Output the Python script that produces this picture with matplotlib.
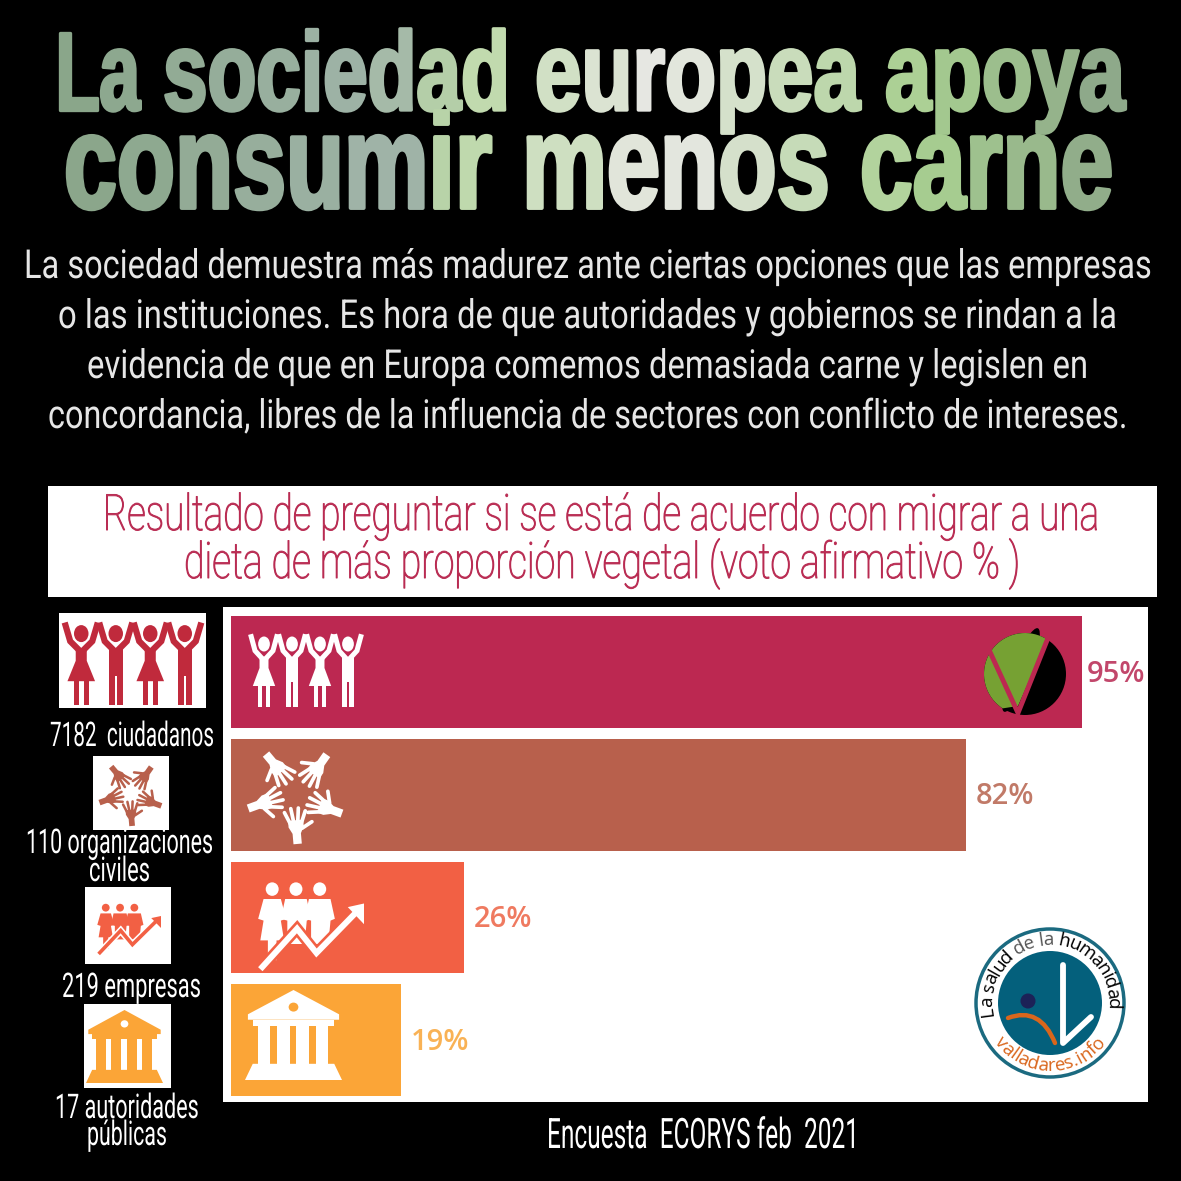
import numpy as np
import matplotlib
matplotlib.use('Agg')
import matplotlib.pyplot as plt
from matplotlib.patches import Circle, Ellipse, PathPatch, Polygon, Rectangle
from matplotlib.path import Path
from matplotlib.patheffects import AbstractPathEffect
from matplotlib.transforms import Affine2D

# Data
title_lines = ['La sociedad europea apoya', 'consumir menos carne']
body_lines = ['La sociedad demuestra más madurez ante ciertas opciones que las empresas',
              'o las instituciones. Es hora de que autoridades y gobiernos se rindan a la',
              'evidencia de que en Europa comemos demasiada carne y legislen en',
              'concordancia, libres de la influencia de sectores con conflicto de intereses.']
banner_lines = ['Resultado de preguntar si se está de acuerdo con migrar a una',
                'dieta de más proporción vegetal (voto afirmativo % )']
groups = ['ciudadanos', 'organizaciones civiles', 'empresas', 'autoridades públicas']
values = [95, 82, 26, 19]
bar_colors = ['#bc2851', '#b8604c', '#f26044', '#fba537']
value_colors = ['#c2476b', '#c17a68', '#ef7a60', '#f9b255']
source = 'Encuesta  ECORYS feb  2021'

W = 1181
fig = plt.figure(figsize=(11.81, 11.81), dpi=100, facecolor='black')
renderer = fig.canvas.get_renderer()

# Bar chart on its white panel
ax = fig.add_axes([223 / W, 1 - 1102 / W, 925 / W, 495 / W], facecolor='white')
ax.barh(range(len(values)), values, height=0.91, color=bar_colors)
ax.set_xlim(-0.893, 102.37)
ax.set_ylim(3.505, -0.53)
ax.set_xticks([])
ax.set_yticks([])
for s in ax.spines.values():
    s.set_visible(False)
for i, v in enumerate(values):
    gap = 3.5 if v > 90 else 7
    ax.annotate(f'{v}%', (v, i), xytext=(gap, -1.5), textcoords='offset points', va='center',
                fontsize=21, color=value_colors[i], family='Open Sans', weight='semibold')

# Overlay in pixel coordinates for the text and the icons
ov = fig.add_axes([0, 0, 1, 1], facecolor='none')
ov.set_xlim(0, W)
ov.set_ylim(W, 0)
ov.axis('off')


# The fonts here are too wide: the text is set small enough to fit its width,
# then stretched upwards from its baseline to the height it should have
class Stretch(AbstractPathEffect):
    def __init__(self, sy, y0, stroke=0.0):
        super().__init__()
        self.sy = sy
        self.y0 = y0
        self.stroke = stroke

    def draw_path(self, renderer, gc, tpath, affine, rgbFace=None):
        aff = affine + Affine2D().translate(0, -self.y0).scale(1, self.sy).translate(0, self.y0)
        gc0 = renderer.new_gc()
        gc0.copy_properties(gc)
        if self.stroke > 0:
            gc0.set_linewidth(self.stroke)
            gc0.set_foreground(rgbFace)
        renderer.draw_path(gc0, tpath, aff, rgbFace)
        gc0.restore()


def text_width(s, size, family, weight):
    t = ov.text(0, 0, s, fontsize=size, family=family, weight=weight)
    w = t.get_window_extent(renderer).width
    t.remove()
    return w


def fit_text(s, x1, x2, base, size_px, color, family='Roboto', weight='normal', stroke=0.0, z=5):
    size = size_px * 0.72
    small = size * (x2 - x1) / text_width(s, size, family, weight)
    t = ov.text(x1, base, s, fontsize=small, family=family, weight=weight, color=color,
                va='baseline', ha='left', zorder=z)
    t.set_path_effects([Stretch(size / small, W - base, stroke)])
    return t


# Title colours run across the picture
grad_x = [55, 350, 440, 640, 900, 1120]
grad_r = [0x8a, 0x9f, 0xbc, 0xe8, 0xa8, 0x88]
grad_g = [0xa6, 0xb3, 0xd8, 0xe8, 0xcf, 0xa0]
grad_b = [0x8a, 0xa8, 0xa8, 0xe4, 0x90, 0x88]


def gradient_word(s, x1, x2, base, size_px, stroke):
    family, weight = 'Liberation Sans', 'bold'
    size = size_px * 0.72
    small = size * (x2 - x1) / text_width(s, size, family, weight)
    xw = text_width('x', small, family, weight)
    for i, ch in enumerate(s):
        off = text_width(s[:i] + 'x', small, family, weight) - xw if i else 0
        px = x1 + off
        col = [np.interp(px, grad_x, c) / 255 for c in (grad_r, grad_g, grad_b)]
        t = ov.text(px, base, ch, fontsize=small, family=family, weight=weight, color=col,
                    va='baseline', ha='left', zorder=4)
        t.set_path_effects([Stretch(size / small, W - base, stroke)])


for word, x1, x2 in zip(title_lines[0].split(), [55, 163, 535, 885], [140, 510, 860, 1125]):
    gradient_word(word, x1, x2, 110, 112, 2.4)
for word, x1, x2 in zip(title_lines[1].split(), [64, 522, 860], [492, 830, 1113]):
    gradient_word(word, x1, x2, 208, 134, 2.8)

for s, x1, x2, y in zip(body_lines, [24, 58, 87, 48], [1152, 1116, 1088, 1127], [278, 328, 378, 428]):
    fit_text(s, x1, x2, y, 40, '#e6e6e6')

# Banner
ov.add_patch(Rectangle((48, 486), 1109, 111, fc='white', ec='none', zorder=2))
fit_text(banner_lines[0], 103, 1100, 530, 50, '#b92b52', weight='light', stroke=0.7)
fit_text(banner_lines[1], 184, 1021, 578, 50, '#b92b52', weight='light', stroke=0.7)

# Labels at the left
fit_text('7182  ciudadanos', 50, 214, 746, 34, 'white', z=3)
fit_text('110 organizaciones', 26, 213, 853, 34, 'white', z=3)
fit_text('civiles', 89, 150, 881, 34, 'white', z=3)
fit_text('219 empresas', 62, 201, 997, 34, 'white', z=3)
fit_text('17 autoridades', 55, 199, 1118, 34, 'white', z=3)
fit_text('públicas', 87, 167, 1145, 34, 'white', z=3)
fit_text(source, 547, 859, 1148, 42, 'white', z=3)

for x, y, w, h in [(59, 613, 147, 95), (93, 756, 76, 74), (85, 887, 86, 77), (84, 1004, 87, 84)]:
    ov.add_patch(Rectangle((x, y), w, h, fc='white', ec='none', zorder=4))


def people_icon(x0, y0, w, h, col, z=6):
    fw = w / 4
    lw = fw * 0.13
    for k in range(4):
        fx = lambda u: x0 + (k + u) * fw
        fy = lambda v: y0 + v * h
        ov.add_patch(Ellipse((fx(0.5), fy(0.16)), fw * 0.42, h * 0.2, fc=col, zorder=z))
        ov.plot([fx(0.02), fx(0.18), fx(0.5), fx(0.82), fx(0.98)],
                [fy(0.03), fy(0.25), fy(0.38), fy(0.25), fy(0.03)],
                color=col, lw=lw, solid_joinstyle='miter', solid_capstyle='butt', zorder=z)
        if k % 2 == 0:
            body = [(0.34, 0.33), (0.66, 0.33), (0.66, 0.48), (0.9, 0.72), (0.1, 0.72), (0.34, 0.48)]
            legs = [(0.28, 0.72, 0.15, 0.28), (0.57, 0.72, 0.15, 0.28)]
        else:
            body = [(0.3, 0.33), (0.7, 0.33), (0.7, 0.66), (0.3, 0.66)]
            legs = [(0.3, 0.66, 0.17, 0.34), (0.53, 0.66, 0.17, 0.34)]
        ov.add_patch(Polygon([(fx(u), fy(v)) for u, v in body], fc=col, ec='none', zorder=z))
        for u, v, du, dv in legs:
            ov.add_patch(Rectangle((fx(u), fy(v)), du * fw, dv * h, fc=col, ec='none', zorder=z))


def hand(cx, cy, ang, size, col, z=6):
    a = np.radians(ang)
    ux, uy = np.cos(a), -np.sin(a)
    vx, vy = -uy, ux
    p = lambda u, v: (cx + size * (u * ux + v * vx), cy + size * (u * uy + v * vy))
    ov.add_patch(Polygon([p(-1.0, -0.22), p(-0.45, -0.22), p(-0.1, -0.4), p(0.25, -0.4),
                          p(0.25, 0.4), p(-0.1, 0.4), p(-0.45, 0.22), p(-1.0, 0.22)],
                         fc=col, ec='none', zorder=z))
    lw = size * 0.14
    for v0, u1, v1 in [(-0.3, 0.7, -0.55), (-0.1, 0.88, -0.2), (0.1, 0.88, 0.2), (0.3, 0.7, 0.55)]:
        a0, a1 = p(0.1, v0), p(u1, v1)
        ov.plot([a0[0], a1[0]], [a0[1], a1[1]], color=col, lw=lw, solid_capstyle='round', zorder=z)
    a0, a1 = p(-0.2, 0.3), p(0.1, 0.85)
    ov.plot([a0[0], a1[0]], [a0[1], a1[1]], color=col, lw=lw, solid_capstyle='round', zorder=z)


def hands_icon(cx, cy, r, size, col):
    for ang in [125, 50, 195, 335, 270]:
        a = np.radians(ang)
        hand(cx + r * np.cos(a), cy - r * np.sin(a), ang + 180 + 5, size, col)


def growth_icon(x0, y0, w, h, col, halo, z=6):
    for k, u in enumerate([0.15, 0.37, 0.59]):
        cx = x0 + u * w
        ov.add_patch(Ellipse((cx, y0 + 0.09 * h), 0.12 * w, 0.15 * h, fc=col, zorder=z))
        if k == 0:
            body = [(-0.08, 0.2), (0.08, 0.2), (0.13, 0.42), (0.08, 0.44), (0.11, 0.66), (0.04, 0.66),
                    (0.04, 0.88), (-0.04, 0.88), (-0.04, 0.66), (-0.11, 0.66), (-0.08, 0.44), (-0.13, 0.42)]
        else:
            body = [(-0.1, 0.2), (0.1, 0.2), (0.14, 0.42), (0.1, 0.44), (0.08, 0.7), (-0.08, 0.7),
                    (-0.08, 0.44), (-0.14, 0.42)]
        ov.add_patch(Polygon([(cx + a * w, y0 + b * h) for a, b in body], fc=col, ec='none', zorder=z))
    xs = [x0 + 0.04 * w, x0 + 0.38 * w, x0 + 0.56 * w, x0 + 0.95 * w]
    ys = [y0 + 0.98 * h, y0 + 0.53 * h, y0 + 0.8 * h, y0 + 0.32 * h]
    ov.plot(xs, ys, color=halo, lw=w * 0.075, solid_capstyle='butt', solid_joinstyle='miter', zorder=z)
    ov.plot(xs, ys, color=col, lw=w * 0.04, solid_capstyle='butt', solid_joinstyle='miter', zorder=z)
    ov.add_patch(Polygon([(x0 + w, y0 + 0.25 * h), (x0 + 0.85 * w, y0 + 0.29 * h), (x0 + w, y0 + 0.48 * h)],
                         fc=col, ec='none', zorder=z))


def temple_icon(x0, y0, w, h, col, hole, z=6):
    ov.add_patch(Polygon([(x0 + 0.5 * w, y0), (x0 + 0.97 * w, y0 + 0.27 * h), (x0 + 0.97 * w, y0 + 0.33 * h),
                          (x0 + 0.03 * w, y0 + 0.33 * h), (x0 + 0.03 * w, y0 + 0.27 * h)],
                         fc=col, ec='none', zorder=z))
    ov.add_patch(Ellipse((x0 + 0.5 * w, y0 + 0.19 * h), 0.1 * w, 0.1 * h, fc=hole, zorder=z))
    ov.add_patch(Rectangle((x0 + 0.08 * w, y0 + 0.33 * h), 0.84 * w, 0.07 * h, fc=col, ec='none', zorder=z))
    for u in [0.13, 0.33, 0.53, 0.73]:
        ov.add_patch(Rectangle((x0 + u * w, y0 + 0.4 * h), 0.13 * w, 0.42 * h, fc=col, ec='none', zorder=z))
    ov.add_patch(Polygon([(x0 + 0.08 * w, y0 + 0.82 * h), (x0 + 0.92 * w, y0 + 0.82 * h), (x0 + w, y0 + h),
                          (x0, y0 + h)], fc=col, ec='none', zorder=z))


# left column
people_icon(64, 620, 138, 85, '#c02a3c')
hands_icon(131, 793, 20, 13, '#b8604c')
growth_icon(96, 903, 65, 52, '#f26044', 'white')
temple_icon(86, 1010, 77, 73, '#fba537', 'white')
# inside the bars
people_icon(250, 632, 112, 75, 'white')
hands_icon(296, 794, 31, 19, 'white')
growth_icon(256, 881, 108, 90, 'white', bar_colors[2])
temple_icon(245, 990, 97, 90, 'white', bar_colors[3])

# Round logo in the first bar
ov.add_patch(Ellipse((1021, 670), 18, 90, angle=22, fc='black', zorder=6))
ov.add_patch(Circle((1025, 674), 41, fc='black', zorder=6))
arc = np.radians(np.linspace(57, 237, 40))
green = np.vstack([np.c_[1025 + 41 * np.cos(arc), 674 - 41 * np.sin(arc)], [[1018, 706]]])
ov.add_patch(Polygon(green, fc='#76a133', ec='none', zorder=7))
ov.plot([990, 1018, 1048], [652, 713, 638], color=bar_colors[0], lw=3.5, zorder=8, solid_joinstyle='miter')

# Round logo at the bottom right
lx, ly = 1050, 1003
ov.add_patch(Circle((lx, ly), 74, fc='white', ec='#1b6a80', lw=2.5, zorder=6))
ov.add_patch(Circle((lx, ly), 52, fc='#04607c', ec='none', zorder=7))
ov.add_patch(Circle((1028, 1001), 7.5, fc='#1c2257', ec='none', zorder=8))
orange = Path([(1008, 1018), (1040, 1006), (1055, 1043)], [Path.MOVETO, Path.CURVE3, Path.CURVE3])
ov.add_patch(PathPatch(orange, fc='none', ec='#d9661c', lw=3.2, capstyle='round', zorder=8))
ov.plot([1063, 1063, 1091], [965, 1043, 1017], color='white', lw=4.2, solid_capstyle='round',
        solid_joinstyle='round', zorder=8)


def arc_text(s, colors, a_start, a_end, r, top=True):
    size = 13.5
    total = text_width(s, size, 'Open Sans', 'normal')
    xw = text_width('x', size, 'Open Sans', 'normal')
    for i, ch in enumerate(s):
        if ch == ' ':
            continue
        off = text_width(s[:i] + 'x', size, 'Open Sans', 'normal') - xw if i else 0
        cw = text_width(ch + 'x', size, 'Open Sans', 'normal') - xw
        ang = a_start + (a_end - a_start) * (off + cw / 2) / total
        a = np.radians(ang)
        rot = ang - 90 if top else ang + 90
        ov.text(lx + r * np.cos(a), ly - r * np.sin(a), ch, fontsize=size, family='Open Sans',
                color=colors[i], rotation=rot, rotation_mode='anchor', ha='center', va='center', zorder=9)


top_text = 'La salud de la humanidad'
top_cols = ['black'] * 9 + ['#555555'] * 6 + ['black'] * 9
arc_text(top_text, top_cols, 192, -6, 63)
bot_text = 'valladares.info'
arc_text(bot_text, ['#d9661c'] * len(bot_text), 215, 325, 63, top=False)

fig.savefig('out.png', dpi=100, facecolor='black')
